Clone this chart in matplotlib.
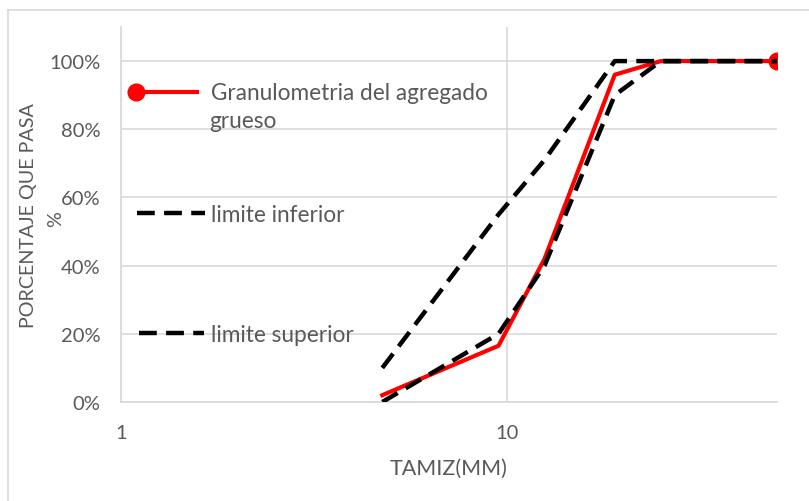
"""
Curva granulometrica del agregado grueso con limites inferior y superior.
"""
import matplotlib
matplotlib.use('Agg')
import matplotlib.pyplot as plt
from matplotlib.lines import Line2D
from matplotlib.legend_handler import HandlerLine2D
from matplotlib.ticker import FixedLocator, FuncFormatter, NullLocator

# tamices (mm) y porcentajes que pasan
tamiz_mm = [4.75, 9.5, 12.5, 19.0, 25.0, 37.5, 50.0]
granulometria = [0.02, 0.165, 0.42, 0.96, 1.00, 1.00, 1.00]
limite_inferior = [0.00, 0.20, 0.40, 0.90, 1.00, 1.00, 1.00]
limite_superior = [0.10, 0.55, 0.71, 1.00, 1.00, 1.00, 1.00]

y_ticks = [0, 0.2, 0.4, 0.6, 0.8, 1.0]
x_ticks = [1, 10]

GRAY_TEXT = '#595959'
GRID = '#d9d9d9'
FONT = ['Lato', 'DejaVu Sans']
FS_TICK = 14.5
FS_LEG = 16.3
FS_YLAB = 14.2

plt.rcParams['font.family'] = FONT


class LeftMarkerHandler(HandlerLine2D):
    """Legend line with a single marker at its left end."""
    def create_artists(self, *args, **kwargs):
        artists = super().create_artists(*args, **kwargs)
        for a in artists:
            a.set_markevery([0])
        return artists


fig = plt.figure(figsize=(8.09, 5.02), dpi=100)
ax = fig.add_axes([121 / 809, 99 / 502, 656 / 809, 375 / 502])

dash = (0, (4.0, 2.1))
ax.plot(tamiz_mm, granulometria, color='#ff0000', lw=3.0, marker='o', ms=12,
        markevery=[-1], zorder=3)
ax.plot(tamiz_mm, limite_inferior, color='black', lw=3.2, linestyle=dash, zorder=4)
ax.plot(tamiz_mm, limite_superior, color='black', lw=3.2, linestyle=dash, zorder=4)

ax.set_xscale('log')
ax.set_xlim(1, 50)
ax.set_ylim(0, 1.1)
ax.xaxis.set_major_locator(FixedLocator(x_ticks))
ax.xaxis.set_minor_locator(NullLocator())
ax.xaxis.set_major_formatter(FuncFormatter(lambda v, p: f'{v:g}'))
ax.yaxis.set_major_locator(FixedLocator(y_ticks))
ax.yaxis.set_major_formatter(FuncFormatter(lambda v, p: f'{v * 100:.0f}%'))

ax.grid(True, color=GRID, lw=1.2)
ax.set_axisbelow(True)
for side in ['top', 'right']:
    ax.spines[side].set_visible(False)
for side in ['left', 'bottom']:
    ax.spines[side].set_color(GRID)
    ax.spines[side].set_linewidth(1.2)
ax.tick_params(length=0, labelcolor=GRAY_TEXT, labelsize=FS_TICK)
ax.tick_params(axis='y', pad=15)
ax.tick_params(axis='x', pad=16)

ax.set_xlabel('TAMIZ(MM)', color=GRAY_TEXT, fontsize=15.5, labelpad=12)
# titulo del eje y partido en dos lineas como en el original
ax.set_ylabel('PORCENTAJE QUE PASA', color=GRAY_TEXT, fontsize=FS_YLAB)
ax.yaxis.set_label_coords(-0.128, 0.5)
ax.text(-0.099, 0.49, '%', transform=ax.transAxes, rotation=90,
        color=GRAY_TEXT, fontsize=FS_YLAB, ha='center', va='center')

# leyenda dentro del area de trazado, como en la hoja de calculo
legend_kw = dict(frameon=False, borderpad=0, borderaxespad=0, handletextpad=0.28,
                 labelcolor=GRAY_TEXT, prop={'family': FONT, 'size': FS_LEG})
h_red = Line2D([], [], color='#ff0000', lw=3.0, marker='o', ms=12)
h_black = Line2D([], [], color='black', lw=3.2, linestyle=dash)

leg1 = ax.legend([h_red], ['Granulometria del agregado'], loc='center left',
                 bbox_to_anchor=(0.013, 0.824), handlelength=3.3, numpoints=2,
                 handler_map={h_red: LeftMarkerHandler()}, **legend_kw)
ax.add_artist(leg1)
ax.text(0.135, 0.751, 'grueso', transform=ax.transAxes, color=GRAY_TEXT,
        fontsize=FS_LEG, va='center', ha='left')
leg2 = ax.legend([h_black], ['limite inferior'], loc='center left',
                 bbox_to_anchor=(0.024, 0.501), handlelength=3.0, **legend_kw)
ax.add_artist(leg2)
ax.legend([h_black], ['limite superior'], loc='center left',
          bbox_to_anchor=(0.027, 0.181), handlelength=2.9, **legend_kw)

# borde del grafico (solo visible arriba e izquierda)
fig.add_artist(Line2D([8 / 809, 8 / 809], [0, 491 / 502], color=GRID, lw=1.2))
fig.add_artist(Line2D([8 / 809, 1], [491 / 502, 491 / 502], color=GRID, lw=1.2))

fig.savefig('out.png', dpi=100)
